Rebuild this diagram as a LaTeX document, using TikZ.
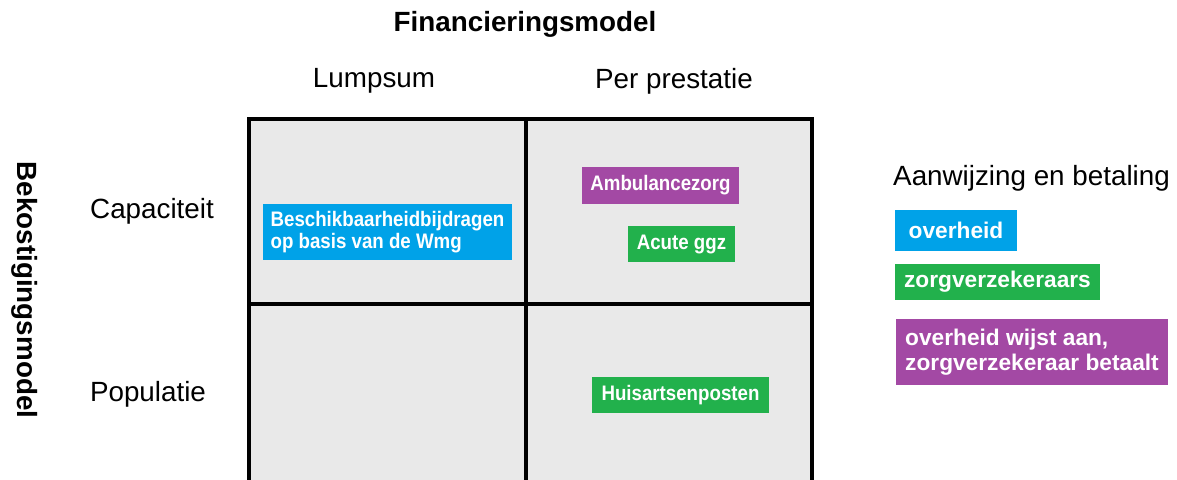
\documentclass[tikz,border=0pt]{standalone}
\usepackage{fontspec}
\setmainfont{Liberation Sans}
\newfontfamily\tagfont[FakeStretch=0.89]{Liberation Sans}
\definecolor{cblue}{HTML}{00A2E8}
\definecolor{cgreen}{HTML}{22B14C}
\definecolor{cpurple}{HTML}{A349A4}
\definecolor{cgrey}{HTML}{E9E9E9}
\begin{document}
\begin{tikzpicture}[x=1pt,y=-1pt,
  lbl/.style={font=\fontsize{27.8}{32}\selectfont, inner sep=0pt},
  hdr/.style={font=\fontsize{27.8}{32}\selectfont\bfseries, inner sep=0pt},
  tag/.style={font=\tagfont\fontsize{21}{22.5}\selectfont\bfseries, text=white, inner sep=0pt, align=left},
  legtag/.style={font=\fontsize{22.7}{25}\selectfont\bfseries, text=white, inner sep=0pt, align=left},
  gridline/.style={line width=4pt}]
\useasboundingbox (0,0) rectangle (1177,479);
\begin{scope}
\clip (0,0) rectangle (1177,479);
\fill[cgrey] (249,119) rectangle (812,490);
\draw[gridline] (249,490) -- (249,119) -- (812,119) -- (812,490);
\draw[gridline] (526,119) -- (526,490);
\draw[gridline] (249,304) -- (812,304);
\end{scope}
\node[hdr] (fin) at (525,24) {Financieringsmodel};
\node[lbl] (lump) at (374,81) {Lumpsum};
\node[lbl] (perp) at (674,81) {Per prestatie};
\node[lbl] (cap) at (152,211) {Capaciteit};
\node[lbl] (pop) at (148,394) {Populatie};
\node[hdr, rotate=-90] (bek) at (25,290) {Bekostigingsmodel};
\node[tag, fill=cblue, minimum width=249, minimum height=56] (besch) at (387.5,232) {Beschikbaarheidbijdragen\\op basis van de Wmg};
\node[tag, fill=cpurple, minimum width=157, minimum height=37] (amb) at (660.5,185.5) {Ambulancezorg};
\node[tag, fill=cgreen, minimum width=107, minimum height=36] (acute) at (681.5,244) {Acute ggz};
\node[tag, fill=cgreen, minimum width=177, minimum height=36] (huis) at (680.5,395) {Huisartsenposten};
\node[lbl, anchor=west] (aanw) at (893,178) {Aanwijzing en betaling};
\node[legtag, fill=cblue, minimum width=122, minimum height=41] (ovh) at (956,230.5) {overheid};
\node[legtag, fill=cgreen, minimum width=205, minimum height=36] (zv) at (997.5,282) {zorgverzekeraars};
\node[legtag, fill=cpurple, minimum width=272, minimum height=66] (mix) at (1032,352) {overheid wijst aan,\\zorgverzekeraar betaalt};
\end{tikzpicture}
\end{document}
